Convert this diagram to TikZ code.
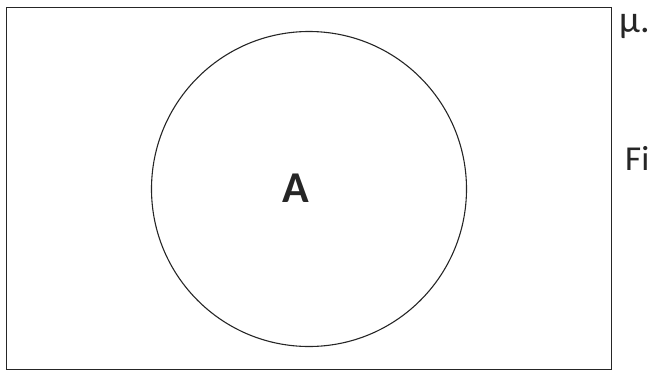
\documentclass[tikz,border=0pt]{standalone}
\usepackage{fontspec}
\setmainfont{Carlito}
\begin{document}
\begin{tikzpicture}[x=1pt,y=-1pt,
  framebox/.style={draw=black!85, line width=1.4pt, inner sep=0pt, anchor=north west},
  setcircle/.style={circle, draw=black!85, line width=1.1pt, inner sep=0pt},
  lbl/.style={inner sep=0pt, text=black!85}]
\useasboundingbox (0,0) rectangle (651,373);
\node[framebox, minimum width=605pt, minimum height=362pt] (frame) at (6,7) {};
\node[setcircle, minimum size=315pt] (setA) at (309,189) {};
\node[lbl, anchor=center] (labelA) at (296,188) {\fontsize{44}{44}\selectfont\bfseries A};
\node[lbl, anchor=base west] (mu) at (619,32) {\fontsize{38}{38}\selectfont μ.};
\node[lbl, anchor=base west] (fi) at (625,170) {\fontsize{35}{35}\selectfont Fi};
\end{tikzpicture}
\end{document}
